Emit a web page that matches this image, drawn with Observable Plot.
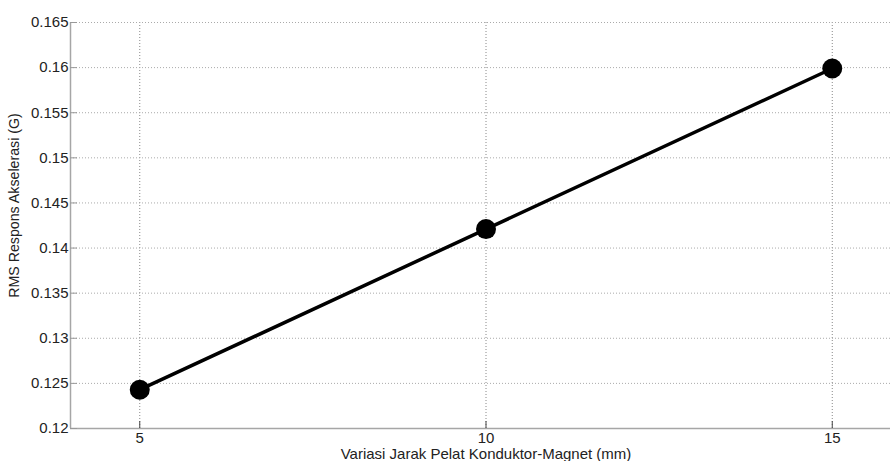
<!DOCTYPE html>
<html>
<head>
<meta charset="utf-8">
<script src="https://cdn.jsdelivr.net/npm/d3@7"></script>
<script src="https://cdn.jsdelivr.net/npm/@observablehq/plot@0.6"></script>
<style>
  html, body { margin: 0; padding: 0; background: #fff; overflow: hidden; }
  #chart svg { font-family: "Liberation Sans", Arial, sans-serif; }
</style>
</head>
<body>
<div id="chart"></div>
<script>
const distances = [5, 10, 15];
const rmsValues = [0.1243, 0.1421, 0.1599];
const xTicks = [5, 10, 15];
const yTicks = [0.12, 0.125, 0.13, 0.135, 0.14, 0.145, 0.15, 0.155, 0.16, 0.165];
const xLabel = "Variasi Jarak Pelat Konduktor-Magnet (mm)";
const yLabel = "RMS Respons Akselerasi (G)";

const data = distances.map((d, i) => ({x: d, y: rmsValues[i]}));

const chart = Plot.plot({
  width: 890,
  height: 461,
  marginLeft: 70,
  marginRight: -11,
  marginTop: 22,
  marginBottom: 33,
  style: {fontSize: "15px", fontFamily: "Liberation Sans, Arial, sans-serif", color: "#222", background: "#fff", overflow: "hidden"},
  x: {domain: [4, 16]},
  y: {domain: [0.12, 0.165]},
  marks: [
    Plot.gridX(xTicks, {stroke: "#888", strokeOpacity: 1, strokeDasharray: "1,2"}),
    Plot.gridY(yTicks.slice(1), {stroke: "#aaa", strokeOpacity: 1, strokeDasharray: "1,2"}),
    Plot.ruleY([0.12], {stroke: "#a6a6a6", strokeWidth: 1.5}),
    Plot.ruleX([4], {stroke: "#a6a6a6", strokeWidth: 1.5}),
    Plot.axisX({ticks: xTicks, tickSize: -7, tickPadding: 11, stroke: "#444", tickFormat: d => String(d),
      fontSize: 15, label: xLabel, labelAnchor: "center", labelArrow: "none", labelOffset: 30}),
    Plot.axisY({ticks: yTicks, tickSize: -7, tickPadding: 9, stroke: "#999", fontSize: 15,
      tickFormat: d => String(+d.toFixed(3)), label: null}),
    Plot.text([yLabel], {frameAnchor: "left", textAnchor: "middle", rotate: -90, dx: -56, dy: -20, fontSize: 14.2, fill: "#222"}),
    Plot.line(data, {x: "x", y: "y", stroke: "black", strokeWidth: 3.5}),
    Plot.dot(data, {x: "x", y: "y", r: 10, fill: "black", stroke: "none"})
  ]
});
document.getElementById("chart").appendChild(chart);
</script>
</body>
</html>
